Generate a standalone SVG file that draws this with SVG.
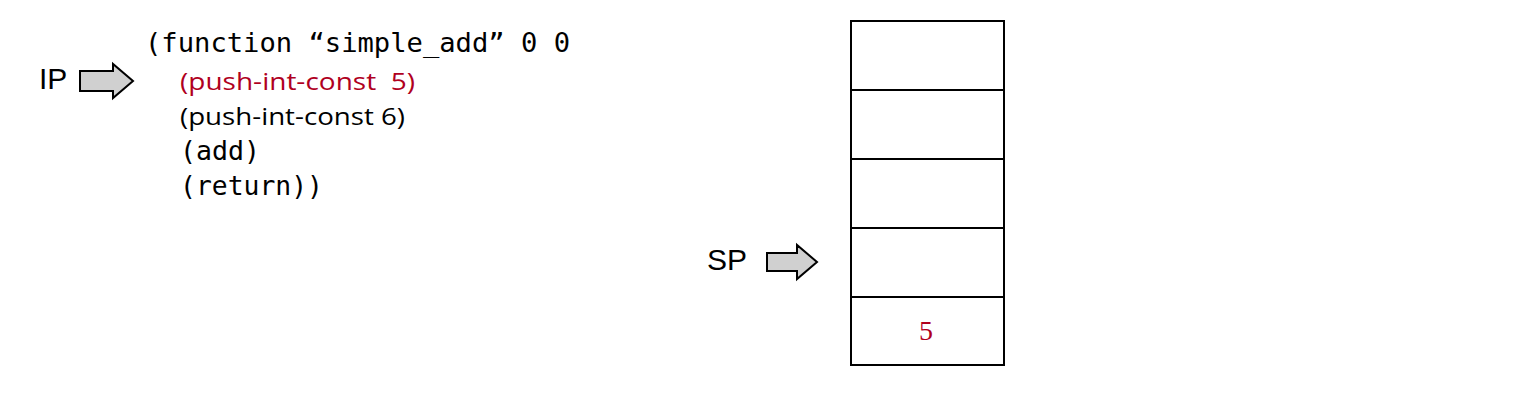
<svg xmlns="http://www.w3.org/2000/svg" width="1540" height="400" viewBox="0 0 1540 400">
<style>
.mono{font-family:"DejaVu Sans Mono","Liberation Mono",monospace;font-size:27px;fill:#000}
.prop{font-family:"Open Sans","Noto Sans",sans-serif;font-size:24px}
.lbl{font-family:"Liberation Sans",Arial,sans-serif;font-size:30px;fill:#000}
.arrow{fill:#d0d0d0;stroke:#000;stroke-width:2}
.cell{fill:#fff;stroke:#000;stroke-width:2}
</style>
<rect width="1540" height="400" fill="#fff"/>
<g id="code">
<text class="mono" x="145" y="52" textLength="425" lengthAdjust="spacingAndGlyphs">(function “simple_add” 0 0</text>
<text class="prop" x="180" y="90" fill="#b0001e" textLength="235" lengthAdjust="spacingAndGlyphs">(push-int-const&#160; 5)</text>
<text class="prop" x="180" y="125" fill="#000" textLength="225" lengthAdjust="spacingAndGlyphs">(push-int-const 6)</text>
<text class="mono" x="180" y="160" textLength="80" lengthAdjust="spacingAndGlyphs">(add)</text>
<text class="mono" x="180" y="195" textLength="143" lengthAdjust="spacingAndGlyphs">(return))</text>
</g>
<g id="ip">
<text class="lbl" x="39" y="89">IP</text>
<polygon class="arrow" points="80,71 113,71 113,64 133,81 113,98 113,91 80,91"/>
</g>
<g id="sp">
<text class="lbl" x="707" y="270">SP</text>
<polygon class="arrow" points="767,253 797,253 797,245 817,262 797,279 797,271 767,271"/>
</g>
<g id="stack">
<rect class="cell" x="851" y="21" width="153" height="69"/>
<rect class="cell" x="851" y="90" width="153" height="69"/>
<rect class="cell" x="851" y="159" width="153" height="69"/>
<rect class="cell" x="851" y="228" width="153" height="69"/>
<rect class="cell" x="851" y="297" width="153" height="68"/>
<text x="926" y="340" text-anchor="middle" font-family="Liberation Serif,serif" font-size="28" fill="#b0001e">5</text>
</g>
</svg>
